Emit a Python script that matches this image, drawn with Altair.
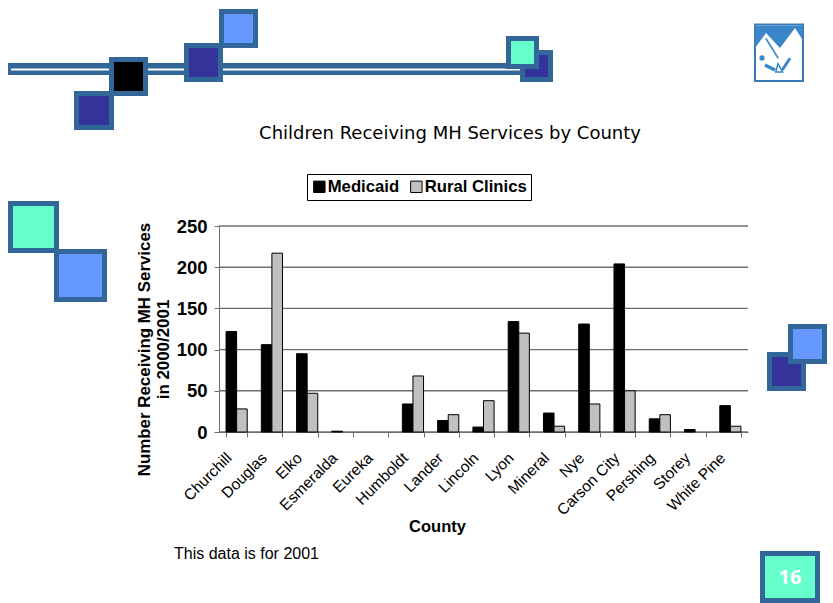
import altair as alt
import pandas as pd

counties = ["Churchill", "Douglas", "Elko", "Esmeralda", "Eureka", "Humboldt", "Lander", "Lincoln",
            "Lyon", "Mineral", "Nye", "Carson City", "Pershing", "Storey", "White Pine"]
medicaid = [122, 106, 95, 1, 0, 34, 14, 6, 134, 23, 131, 204, 16, 3, 32]
rural_clinics = [28, 217, 47, 0, 0, 68, 21, 38, 120, 7, 34, 50, 21, 0, 7]
series_names = ["Medicaid", "Rural Clinics"]
y_ticks = [0, 50, 100, 150, 200, 250]

BORDER = "#336699"
NAVY = "#333399"
SKY = "#6699FF"
MINT = "#66FFCC"
EMBLEM = "#3A86C8"

df = pd.DataFrame(
    [{"County": c, "Series": series_names[0], "Count": m} for c, m in zip(counties, medicaid)]
    + [{"County": c, "Series": series_names[1], "Count": r} for c, r in zip(counties, rural_clinics)]
)
ticks_df = pd.DataFrame({"Count": y_ticks})

x_scale = alt.Scale(domain=counties, range=[219, 748], paddingInner=0.4, paddingOuter=0.2)
y_scale = alt.Scale(domain=[0, 250], range=[432, 226], nice=False)


def box(x0, y0, x1, y1, fill, stroke=None, width=0):
    """Rectangle placed in canvas pixels, used for the slide furniture."""
    kw = {"fill": fill}
    if stroke:
        kw.update(stroke=stroke, strokeWidth=width)
    return alt.Chart(df.head(1)).mark_rect(**kw).encode(
        x=alt.value(x0), x2=alt.value(x1), y=alt.value(y0), y2=alt.value(y1)
    )


def tile(x0, y0, x1, y1, fill):
    """Square tile with the thick slate-blue frame."""
    return box(x0 + 2.5, y0 + 2.5, x1 - 2.5, y1 - 2.5, fill, BORDER, 5)


def caption(text, x, y, **kw):
    return alt.Chart(df.head(1)).mark_text(text=text, **kw).encode(x=alt.value(x), y=alt.value(y))


def glyph(path, filled, width=1.5):
    """Emblem part: path in units of half the emblem's 50px square, centred at (779, 53)."""
    style = {"fill": EMBLEM} if filled else {"stroke": EMBLEM, "strokeWidth": width}
    return alt.Chart(df.head(1)).mark_point(
        shape=path, filled=filled, opacity=1, size=2500, **style
    ).encode(x=alt.value(779), y=alt.value(53))


header = [
    box(8, 63, 540, 75, BORDER),
    box(11, 68.5, 540, 70.5, "#FFFFFF"),
    tile(74, 91, 114, 130, NAVY),
    tile(109, 57, 148, 96, "#000000"),
    tile(219, 9, 258, 48, SKY),
    tile(184, 43, 223, 82, NAVY),
    tile(520, 50, 553, 82, NAVY),
    tile(506, 36, 539, 69, MINT),
]
side = [
    tile(54, 249, 107, 302, SKY),
    tile(8, 201, 59, 253, MINT),
    tile(767, 352, 806, 391, NAVY),
    tile(788, 324, 827, 364, SKY),
    tile(760, 551, 820, 603, MINT),
]

# Emblem at the top right: framed panel, blue peaks and the figure on a swing
emblem = [
    box(755, 24.5, 803, 81, "#FFFFFF", "#3A7AB8", 2),
    glyph("M-0.96 -1.1L0.96 -1.1L0.96 -0.5L0.64 -1L0.04 -0.2L-0.52 -0.8L-0.96 -0.2Z", True),
    glyph("M-0.53 -0.59L-0.03 0.21", False, 1.5),
    glyph("M-0.56 0.48L-0.16 0.68", False, 3.5),
    glyph("M0.13 0.68L0.44 0.21", False, 3),
    glyph("M-0.04 0.43L-0.13 0.76L0.14 0.76Z", False, 1.5),
    alt.Chart(df.head(1)).mark_point(filled=True, fill=EMBLEM, opacity=1, size=28).encode(
        x=alt.value(762), y=alt.value(58)
    ),
]

y_axis = alt.Axis(
    offset=-219, values=y_ticks, title=["Number Receiving MH Services", "in 2000/2001"], grid=False,
    titleFont="Liberation Sans", titleFontSize=16.9, titleFontWeight="bold", titleColor="#000000",
    titleX=-65.5, titleY=349, titleLineHeight=19,
    labelFont="Liberation Sans", labelFontSize=18.5, labelFontWeight="bold", labelColor="#000000",
    labelPadding=7, domainColor="#6E6E6E", tickColor="#6E6E6E", tickSize=5,
)

grid = alt.Chart(ticks_df).mark_rule(color="#6E6E6E", strokeWidth=1.4).encode(
    y=alt.Y("Count:Q", scale=y_scale, axis=y_axis),
    x=alt.value(219), x2=alt.value(748),
)

bars = alt.Chart(df).transform_filter("datum.Count > 0").mark_bar(stroke="#000000", strokeWidth=1).encode(
    x=alt.X("County:N", scale=x_scale, sort=counties, axis=alt.Axis(
        orient="bottom", offset=-171, title="County", titleFont="Liberation Sans", titleFontSize=16.5,
        titleFontWeight="bold", titleColor="#000000", titleX=437, titleY=86,
        labelFont="Liberation Sans", labelFontSize=15.5, labelColor="#000000", labelAngle=-45,
        labelAlign="right", labelBaseline="middle", labelPadding=18, labelOffset=-8,
        domainColor="#6E6E6E", tickColor="#6E6E6E", tickSize=5, tickBand="extent", labelOverlap=False,
    )),
    xOffset=alt.XOffset("Series:N", sort=series_names),
    y=alt.Y("Count:Q", scale=y_scale, axis=y_axis),
    color=alt.Color("Series:N", sort=series_names, scale=alt.Scale(
        domain=series_names, range=["#000000", "#C0C0C0"]
    ), legend=alt.Legend(
        orient="none", legendX=307, legendY=174, direction="horizontal", title=None,
        symbolType="square", symbolSize=130, symbolStrokeColor="#000000", symbolStrokeWidth=1,
        labelFont="Liberation Sans", labelFontSize=16.7, labelFontWeight="bold", labelColor="#000000",
        strokeColor="#000000", fillColor="#FFFFFF", padding=4, columnPadding=8, labelOffset=0,
        labelLimit=200,
    )),
)

texts = [
    caption("Children Receiving MH Services by County", 450, 134, font="DejaVu Sans", fontSize=18,
            color="#000000", align="center", baseline="middle"),
    caption("This data is for 2001", 174, 554, font="Liberation Sans", fontSize=16, color="#000000",
            align="left", baseline="middle"),
    caption("16", 790, 578, font="Noto Sans", fontSize=20, fontWeight="bold", color="#FFFFFF",
            align="center", baseline="middle"),
]

chart = alt.layer(*header, *side, *emblem, *texts, grid, bars).properties(
    width=833, height=603, padding=0, autosize=alt.AutoSizeParams(type="none"),
).configure_view(stroke=None)

chart.save("out.html", embed_options={"renderer": "svg", "actions": False})
